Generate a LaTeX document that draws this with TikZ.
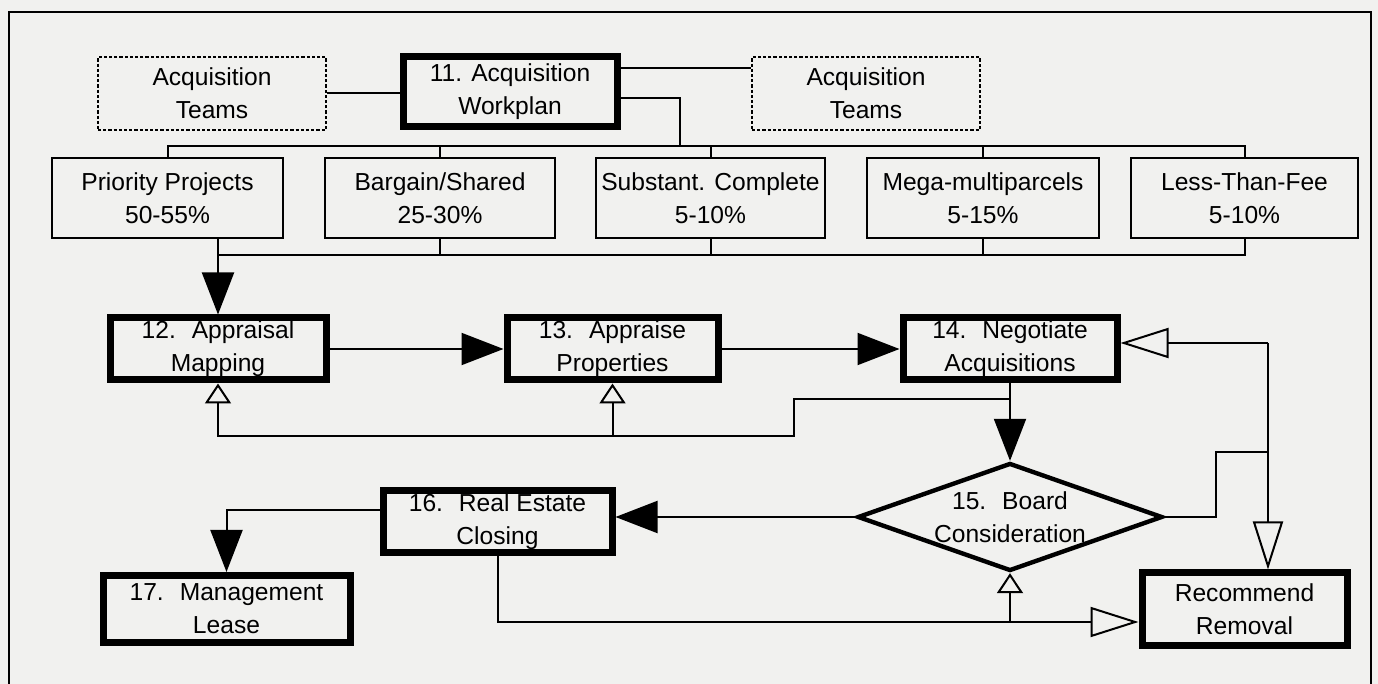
\documentclass[tikz,border=0pt]{standalone}
\usepackage{fontspec}
\setmainfont{Liberation Sans}
\usetikzlibrary{arrows.meta,shapes.geometric}

\tikzset{
  boxText/.style={align=center,inner xsep=1pt,inner ysep=0pt,font=\fontsize{12.3}{16.5}\selectfont},
  thinBox/.style={boxText,draw=drawColor,line width=1pt},
  thickBox/.style={boxText,draw=drawColor,line width=3.5pt},
  teamBox/.style={boxText,draw=drawColor,line width=0.9pt,dash pattern=on 1.6pt off 1pt},
  boardBox/.style={boxText,shape=diamond,aspect=3,inner sep=0pt,draw=drawColor,line width=2.2pt},
  link/.style={draw=drawColor,line width=1pt,line join=miter},
  fillTip/.style={-{Triangle[length=21pt,width=16pt]}},
  openBig/.style={-{Triangle[open,length=24pt,width=15pt]}},
  openSmall/.style={-{Triangle[open,length=10pt,width=13pt]}}
}

\begin{document}
\begin{tikzpicture}[x=0.5pt,y=-0.5pt]
\definecolor{fillColor}{RGB}{241,241,239}
\definecolor{drawColor}{RGB}{0,0,0}
\path[use as bounding box,fill=fillColor] (0,0) rectangle (1378,684);

\path[draw=drawColor,line width=1pt] (9,684) -- (9,12) -- (1371,12) -- (1371,684);

\node[teamBox,minimum width=114pt,minimum height=36.5pt] (teamsL) at (212,93.5) {Acquisition\\Teams};

\node[thickBox,minimum width=107pt,minimum height=35pt] (workplan) at (510,92) {11. Acquisition\\Workplan};

\node[teamBox,minimum width=114pt,minimum height=36.5pt] (teamsR) at (866,93.5) {Acquisition\\Teams};

\node[thinBox,minimum width=115.5pt,minimum height=40pt] (priority) at (167.5,198) {Priority Projects\\50-55\%};

\node[thinBox,minimum width=115pt,minimum height=40pt] (bargain) at (440,198) {Bargain/Shared\\25-30\%};

\node[thinBox,minimum width=114.5pt,minimum height=40pt] (substant) at (710.5,198) {Substant. Complete\\5-10\%};

\node[thinBox,minimum width=116pt,minimum height=40pt] (mega) at (983,198) {Mega-multiparcels\\5-15\%};

\node[thinBox,minimum width=113.5pt,minimum height=40pt] (lessfee) at (1244.5,198) {Less-Than-Fee\\5-10\%};

\node[thickBox,minimum width=108pt,minimum height=31pt] (mapping) at (218,349) {12.~ Appraisal\\Mapping};

\node[thickBox,minimum width=105.5pt,minimum height=31pt] (appraise) at (612.5,349) {13.~ Appraise\\Properties};

\node[thickBox,minimum width=107pt,minimum height=31pt] (negotiate) at (1010,349) {14.~ Negotiate\\Acquisitions};

\node[boardBox,minimum width=150pt,minimum height=54pt] (board) at (1010,517) {15.~ Board\\Consideration};

\node[thickBox,minimum width=114.5pt,minimum height=31pt] (closing) at (497.5,522) {16.~ Real Estate\\Closing};

\node[thickBox,minimum width=123.5pt,minimum height=33.5pt] (lease) at (226.5,609) {17.~ Management\\Lease};

\node[thickBox,minimum width=102.5pt,minimum height=36pt] (removal) at (1244.5,609) {Recommend\\Removal};

\coordinate (planHigh) at (0,68);
\coordinate (planDrop) at (680,98);
\coordinate (topBus) at (0,146);
\coordinate (lowBus) at (0,255);
\coordinate (loopUp) at (0,399);
\coordinate (loopStep) at (794,436);
\coordinate (sideRail) at (1268,343);
\coordinate (boardStep) at (1216,452);
\coordinate (leaseRail) at (0,510);
\coordinate (closeRail) at (0,622);

\path[link] (teamsL.east) -- (teamsL.east -| workplan.west);

\path[link] (workplan.east |- planHigh) -- (teamsR.west |- planHigh);

\path[link] (workplan.east |- planDrop) -- (planDrop) -- (planDrop |- topBus);

\path[link] (priority.north) |- (topBus -| lessfee.north) -- (lessfee.north);

\foreach \n in {bargain,substant,mega}
  \path[link] (\n.north) -- (\n.north |- topBus);

\path[link] (mapping.north |- lowBus) -- (lessfee.south |- lowBus) -- (lessfee.south);

\foreach \n in {bargain,substant,mega}
  \path[link] (\n.south) -- (\n.south |- lowBus);

\path[link,fillTip] (mapping.north |- priority.south) -- (mapping.north);

\path[link,fillTip] (mapping.east) -- (appraise.west);

\path[link,fillTip] (appraise.east) -- (negotiate.west);

\path[link,openSmall] (negotiate.south |- loopUp) -| (loopStep) -| (mapping.south);

\path[link,openSmall] (appraise.south |- loopStep) -- (appraise.south);

\path[link,fillTip] (negotiate.south) -- (board.north);

\path[link,openBig] (sideRail) -- (sideRail -| negotiate.east);

\path[link,openBig] (sideRail) -- (sideRail |- removal.north);

\path[link] (board.east) -| (boardStep) -- (boardStep -| sideRail);

\path[link,fillTip] (board.west) -- (board.west -| closing.east);

\path[link,fillTip] (closing.west |- leaseRail) -| (lease.north);

\path[link,openBig] (closing.south) |- (closeRail -| removal.west);

\path[link,openSmall] (board.south |- closeRail) -- (board.south);
\end{tikzpicture}
\end{document}
